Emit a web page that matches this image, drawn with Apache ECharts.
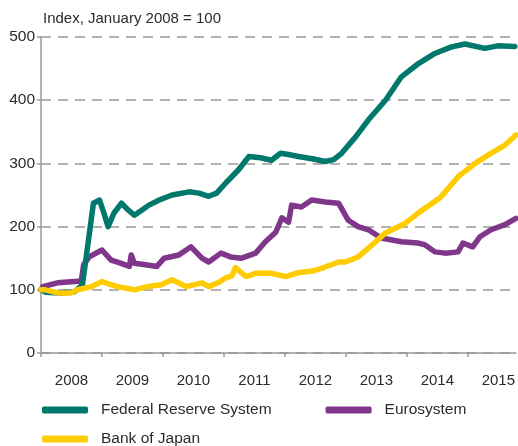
<!DOCTYPE html>
<html>
<head>
<meta charset="utf-8">
<script src="https://cdn.jsdelivr.net/npm/echarts@6/dist/echarts.min.js"></script>
<style>
  html, body { margin: 0; padding: 0; background: #fff; }
  #chart { width: 518px; height: 446px; }
</style>
</head>
<body>
<div id="chart"></div>
<script>
// x = decimal year, y = index (Jan 2008 = 100)
const fedData = [
  [2008.00, 100], [2008.08, 96], [2008.30, 95], [2008.55, 97], [2008.68, 108],
  [2008.86, 237], [2008.96, 242], [2009.02, 225], [2009.10, 200], [2009.20, 222],
  [2009.32, 237], [2009.41, 228], [2009.53, 218], [2009.64, 225], [2009.77, 234],
  [2009.94, 242], [2010.15, 250], [2010.43, 255], [2010.59, 253], [2010.75, 248],
  [2010.88, 253], [2011.03, 269], [2011.24, 290], [2011.41, 311], [2011.60, 309],
  [2011.78, 305], [2011.93, 316], [2012.06, 314], [2012.22, 311], [2012.47, 307],
  [2012.66, 303], [2012.80, 306], [2012.93, 316], [2013.16, 342], [2013.37, 369],
  [2013.65, 400], [2013.91, 437], [2014.19, 458], [2014.46, 474], [2014.72, 484],
  [2014.95, 489], [2015.28, 482], [2015.49, 486], [2015.77, 485]
];
const euroData = [
  [2008.00, 100], [2008.03, 105], [2008.27, 111], [2008.55, 113], [2008.66, 114],
  [2008.70, 140], [2008.79, 152], [2009.00, 163], [2009.15, 147], [2009.28, 143],
  [2009.45, 137], [2009.48, 155], [2009.53, 142], [2009.69, 140], [2009.90, 137],
  [2010.02, 150], [2010.26, 155], [2010.46, 168], [2010.64, 150], [2010.75, 144],
  [2010.95, 158], [2011.11, 152], [2011.29, 150], [2011.52, 158], [2011.68, 176],
  [2011.85, 191], [2011.95, 214], [2012.06, 207], [2012.11, 234], [2012.27, 231],
  [2012.44, 242], [2012.66, 239], [2012.88, 237], [2013.04, 210], [2013.20, 200],
  [2013.37, 195], [2013.58, 182], [2013.91, 176], [2014.18, 174], [2014.30, 171],
  [2014.46, 160], [2014.63, 158], [2014.84, 160], [2014.92, 174], [2015.08, 168],
  [2015.20, 184], [2015.38, 195], [2015.61, 203], [2015.79, 213]
];
const bojData = [
  [2008.00, 100], [2008.07, 100], [2008.27, 95], [2008.49, 95], [2008.60, 100],
  [2008.83, 105], [2009.00, 113], [2009.25, 105], [2009.53, 100], [2009.74, 105],
  [2009.97, 108], [2010.15, 116], [2010.21, 113], [2010.38, 105], [2010.64, 111],
  [2010.75, 105], [2010.92, 112], [2011.03, 119], [2011.13, 122], [2011.19, 135],
  [2011.36, 121], [2011.52, 126], [2011.78, 126], [2012.01, 121], [2012.22, 127],
  [2012.47, 130], [2012.66, 136], [2012.88, 144], [2012.99, 144], [2013.20, 152],
  [2013.37, 166], [2013.65, 190], [2013.97, 205], [2014.18, 221], [2014.56, 247],
  [2014.84, 279], [2015.12, 300], [2015.33, 313], [2015.61, 329], [2015.79, 345]
];
const yearTicks = [2008, 2009, 2010, 2011, 2012, 2013, 2014, 2015];
const yearLabels = [2008.5, 2009.5, 2010.5, 2011.5, 2012.5, 2013.5, 2014.5, 2015.5];

const chart = echarts.init(document.getElementById('chart'));

const textColor = '#2b2b2b';
const font = 'Liberation Sans, Arial, sans-serif';

const options = {
  animation: false,
  textStyle: { fontFamily: font },
  title: {
    text: 'Index, January 2008 = 100',
    left: 38,
    top: 6,
    textStyle: { fontSize: 15, fontWeight: 'normal', color: textColor, fontFamily: font },
  },
  grid: {
    left: 41,
    right: 0,
    top: 37,
    bottom: 93,
  },
  legend: [
    {
      data: ['Federal Reserve System', 'Eurosystem'],
      left: 37,
      top: 397,
      itemWidth: 46,
      itemHeight: 7,
      itemGap: 54,
      icon: 'roundRect',
      textStyle: { fontSize: 15.5, color: textColor, padding: [0, 0, 0, 8] },
    },
    {
      data: ['Bank of Japan'],
      left: 37,
      top: 426,
      itemWidth: 46,
      itemHeight: 7,
      icon: 'roundRect',
      textStyle: { fontSize: 15.5, color: textColor, padding: [0, 0, 0, 8] },
    },
  ],
  xAxis: {
    type: 'value',
    min: 2008,
    max: 2015.79,
    axisLine: { show: true, lineStyle: { color: '#999', width: 1.5 } },
    axisTick: {
      show: true,
      customValues: yearTicks,
      length: 4,
      lineStyle: { color: '#999', width: 1.5 },
    },
    axisLabel: {
      customValues: yearLabels,
      formatter: v => String(Math.floor(v)),
      fontSize: 15,
      color: textColor,
      margin: 20,
    },
    splitLine: { show: false },
  },
  yAxis: {
    type: 'value',
    min: 0,
    max: 500,
    interval: 100,
    axisLine: { show: true, lineStyle: { color: '#999', width: 1.5 } },
    axisTick: { show: true, length: 4, lineStyle: { color: '#999', width: 1.5 } },
    axisLabel: { fontSize: 15.5, color: textColor, margin: 6 },
    splitLine: {
      show: true,
      lineStyle: { color: '#999', width: 1.5, type: [10, 7] },
    },
  },
  series: [
    {
      name: 'Federal Reserve System',
      type: 'line',
      data: fedData,
      showSymbol: false,
      symbol: 'none',
      color: '#00786c',
      lineStyle: { width: 5.5, cap: 'round', join: 'round' },
      z: 3,
    },
    {
      name: 'Eurosystem',
      type: 'line',
      data: euroData,
      showSymbol: false,
      symbol: 'none',
      color: '#80368b',
      lineStyle: { width: 5.5, cap: 'round', join: 'round' },
      z: 2,
    },
    {
      name: 'Bank of Japan',
      type: 'line',
      data: bojData,
      showSymbol: false,
      symbol: 'none',
      color: '#ffcc00',
      lineStyle: { width: 5.5, cap: 'round', join: 'round' },
      z: 4,
    },
  ],
};

chart.setOption(options);
</script>
</body>
</html>
